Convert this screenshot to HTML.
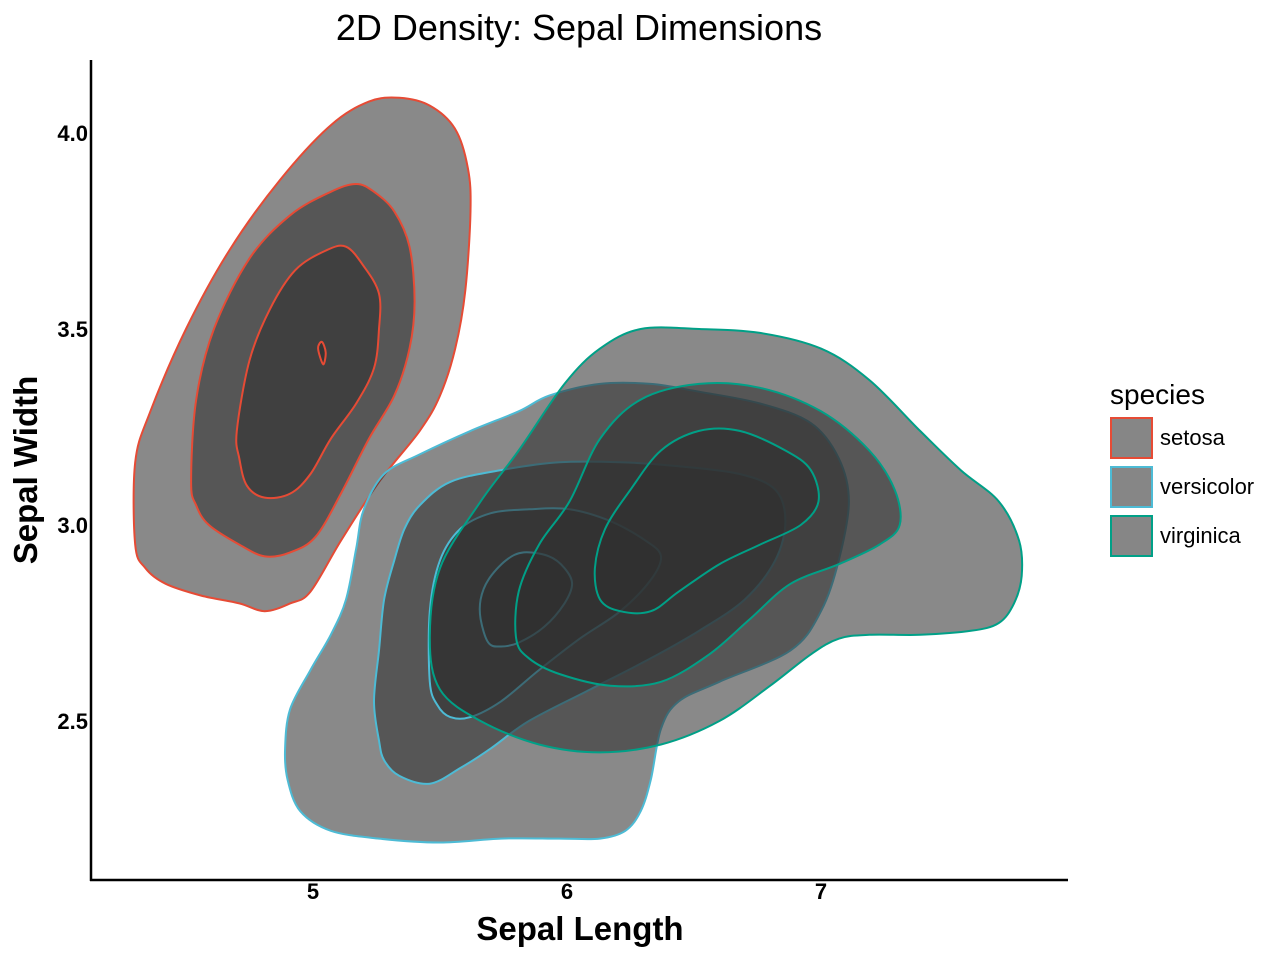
<!DOCTYPE html>
<html><head><meta charset="utf-8">
<style>
html,body{margin:0;padding:0;background:#fff;}
svg{display:block;font-family:"Liberation Sans",Arial,sans-serif;}
</style></head>
<body>
<svg id="chart" width="1280" height="960" viewBox="0 0 1280 960">
  <text x="579" y="40" text-anchor="middle" font-size="36" fill="#000">2D Density: Sepal Dimensions</text>
  <g id="plot"></g>
  <line x1="91" y1="60" x2="91" y2="881" stroke="#000" stroke-width="2.5"/>
  <line x1="90" y1="880" x2="1068" y2="880" stroke="#000" stroke-width="2.5"/>
  <g id="xticks"></g>
  <g id="yticks"></g>
  <text x="580" y="940" text-anchor="middle" font-size="33" font-weight="bold">Sepal Length</text>
  <text transform="translate(37,470) rotate(-90)" text-anchor="middle" font-size="33" font-weight="bold">Sepal Width</text>
  <g>
    <text x="1110" y="404" font-size="28">species</text>
    <g>
      <rect x="1111" y="418" width="41" height="40" fill="#868686" stroke="#E64B35" stroke-width="2"/>
      <text x="1160" y="445" font-size="22">setosa</text>
    </g>
    <g>
      <rect x="1111" y="467" width="41" height="40" fill="#868686" stroke="#4DBBD5" stroke-width="2"/>
      <text x="1160" y="494" font-size="22">versicolor</text>
    </g>
    <g>
      <rect x="1111" y="516" width="41" height="40" fill="#868686" stroke="#00A087" stroke-width="2"/>
      <text x="1160" y="543" font-size="22">virginica</text>
    </g>
  </g>
</svg>
<script>
const xTicks = [5, 6, 7];
const xTickLabels = ["5", "6", "7"];
const yTicks = [2.5, 3.0, 3.5, 4.0];
const yTickLabels = ["2.5", "3.0", "3.5", "4.0"];
const speciesNames = ["setosa", "versicolor", "virginica"];
const speciesColors = ["#E64B35", "#4DBBD5", "#00A087"];

const setosaL1 = [[4.30,2.95],[4.30,3.16],[4.36,3.29],[4.50,3.50],[4.67,3.70],[4.87,3.88],[5.07,4.02],[5.22,4.08],[5.34,4.09],[5.46,4.07],[5.56,4.01],[5.61,3.91],[5.62,3.80],[5.60,3.60],[5.56,3.45],[5.50,3.33],[5.42,3.24],[5.26,3.11],[5.11,2.96],[4.99,2.83],[4.91,2.80],[4.81,2.78],[4.71,2.80],[4.56,2.82],[4.42,2.85],[4.34,2.89]];
const setosaL2 = [[4.52,3.11],[4.54,3.32],[4.61,3.50],[4.75,3.68],[4.91,3.79],[5.07,3.85],[5.17,3.87],[5.24,3.85],[5.32,3.80],[5.38,3.71],[5.40,3.57],[5.38,3.45],[5.32,3.33],[5.22,3.22],[5.11,3.08],[5.01,2.97],[4.91,2.93],[4.81,2.92],[4.71,2.95],[4.59,3.00],[4.54,3.05]];
const setosaL3 = [[4.71,3.17],[4.70,3.24],[4.75,3.42],[4.83,3.55],[4.93,3.65],[5.05,3.70],[5.13,3.71],[5.20,3.66],[5.26,3.59],[5.26,3.50],[5.24,3.40],[5.17,3.31],[5.07,3.22],[4.99,3.13],[4.91,3.08],[4.81,3.07],[4.74,3.10]];
const setosaL4 = [[5.02,3.45],[5.035,3.467],[5.05,3.44],[5.04,3.41]];

const versiL1 = [[4.89,2.43],[4.91,2.53],[4.99,2.63],[5.07,2.72],[5.13,2.81],[5.17,2.94],[5.20,3.04],[5.28,3.13],[5.42,3.18],[5.62,3.24],[5.81,3.29],[5.93,3.33],[6.13,3.36],[6.33,3.36],[6.52,3.34],[6.76,3.31],[6.96,3.26],[7.07,3.17],[7.11,3.06],[7.07,2.91],[7.00,2.78],[6.88,2.68],[6.60,2.60],[6.44,2.55],[6.37,2.48],[6.33,2.35],[6.29,2.27],[6.23,2.22],[6.13,2.20],[5.97,2.20],[5.74,2.20],[5.50,2.19],[5.26,2.20],[5.07,2.22],[4.95,2.27],[4.90,2.35]];
const versiL2 = [[5.26,2.45],[5.24,2.55],[5.26,2.68],[5.28,2.81],[5.32,2.91],[5.36,2.99],[5.42,3.05],[5.54,3.11],[5.74,3.14],[5.97,3.16],[6.21,3.16],[6.44,3.15],[6.68,3.13],[6.82,3.09],[6.86,3.01],[6.82,2.91],[6.70,2.81],[6.52,2.73],[6.33,2.66],[6.09,2.58],[5.85,2.50],[5.70,2.43],[5.58,2.38],[5.46,2.34],[5.34,2.36],[5.28,2.40]];
const versiL3 = [[5.49,2.54],[5.46,2.60],[5.46,2.78],[5.50,2.91],[5.58,2.99],[5.70,3.03],[5.85,3.04],[6.01,3.04],[6.17,3.01],[6.31,2.96],[6.37,2.92],[6.33,2.86],[6.21,2.78],[6.05,2.71],[5.89,2.63],[5.74,2.55],[5.62,2.51],[5.54,2.51]];
const versiL4 = [[5.66,2.76],[5.66,2.81],[5.69,2.86],[5.76,2.91],[5.83,2.93],[5.93,2.92],[5.99,2.89],[6.02,2.85],[5.99,2.80],[5.91,2.74],[5.81,2.70],[5.74,2.69],[5.69,2.70]];

const virgL1 = [[5.46,2.71],[5.50,2.89],[5.66,3.06],[5.81,3.19],[5.99,3.36],[6.13,3.45],[6.29,3.50],[6.52,3.50],[6.76,3.49],[7.00,3.45],[7.19,3.37],[7.39,3.24],[7.55,3.14],[7.70,3.06],[7.78,2.96],[7.79,2.87],[7.76,2.80],[7.70,2.75],[7.59,2.73],[7.39,2.72],[7.19,2.72],[7.07,2.71],[6.96,2.67],[6.80,2.59],[6.60,2.50],[6.37,2.44],[6.13,2.42],[5.89,2.44],[5.66,2.50],[5.50,2.58]];
const virgL2 = [[5.80,2.71],[5.81,2.83],[5.89,2.95],[6.01,3.06],[6.13,3.22],[6.29,3.32],[6.52,3.36],[6.76,3.35],[7.00,3.29],[7.19,3.19],[7.29,3.09],[7.31,3.00],[7.23,2.95],[7.07,2.90],[6.88,2.85],[6.72,2.76],[6.56,2.67],[6.37,2.60],[6.17,2.59],[5.97,2.62],[5.85,2.66]];
const virgL3 = [[6.13,2.81],[6.11,2.89],[6.15,2.99],[6.25,3.09],[6.37,3.19],[6.52,3.24],[6.68,3.24],[6.86,3.19],[6.96,3.14],[6.99,3.06],[6.92,3.00],[6.76,2.95],[6.60,2.90],[6.44,2.83],[6.33,2.78],[6.21,2.78]];

const contours = [
  [setosaL1, setosaL2, setosaL3, setosaL4],
  [versiL1, versiL2, versiL3, versiL4],
  [virgL1, virgL2, virgL3]
];

function xScale(v){ return 313 + (v - 5) * 254; }
function yScale(v){ return 133 + (4 - v) * 392; }

function smoothPath(pts){
  const p = pts.map(d => [xScale(d[0]), yScale(d[1])]);
  const n = p.length;
  let s = "M" + p[0][0].toFixed(1) + "," + p[0][1].toFixed(1);
  for (let i = 0; i < n; i++){
    const p0 = p[(i - 1 + n) % n], p1 = p[i], p2 = p[(i + 1) % n], p3 = p[(i + 2) % n];
    const c1x = p1[0] + (p2[0] - p0[0]) / 6, c1y = p1[1] + (p2[1] - p0[1]) / 6;
    const c2x = p2[0] - (p3[0] - p1[0]) / 6, c2y = p2[1] - (p3[1] - p1[1]) / 6;
    s += "C" + c1x.toFixed(1) + "," + c1y.toFixed(1) + " " + c2x.toFixed(1) + "," + c2y.toFixed(1) + " " + p2[0].toFixed(1) + "," + p2[1].toFixed(1);
  }
  return s + "Z";
}

const NS = "http://www.w3.org/2000/svg";
const plot = document.getElementById("plot");
contours.forEach((levels, si) => {
  const g = document.createElementNS(NS, "g");
  
  
  levels.forEach((lvl, li) => {
    const path = document.createElementNS(NS, "path");
    path.setAttribute("d", smoothPath(lvl));
    path.setAttribute("fill", "#2f2f2f");
    path.setAttribute("fill-opacity", "0.57");
    path.setAttribute("stroke", speciesColors[si]);
    path.setAttribute("stroke-width", "2");
    
    
    g.appendChild(path);
  });
  plot.appendChild(g);
});

const xg = document.getElementById("xticks");
xTicks.forEach((t, i) => {
  const tx = document.createElementNS(NS, "text");
  tx.setAttribute("x", xScale(t));
  tx.setAttribute("y", 899);
  tx.setAttribute("text-anchor", "middle");
  tx.setAttribute("font-size", "22");
  tx.setAttribute("font-weight", "bold");
  tx.textContent = xTickLabels[i];
  
  
  xg.appendChild(tx);
});
const yg = document.getElementById("yticks");
yTicks.forEach((t, i) => {
  const tx = document.createElementNS(NS, "text");
  tx.setAttribute("x", 88);
  tx.setAttribute("y", yScale(t) + 8);
  tx.setAttribute("text-anchor", "end");
  tx.setAttribute("font-size", "22");
  tx.setAttribute("font-weight", "bold");
  tx.textContent = yTickLabels[i];
  
  
  yg.appendChild(tx);
});
</script>
</body></html>
